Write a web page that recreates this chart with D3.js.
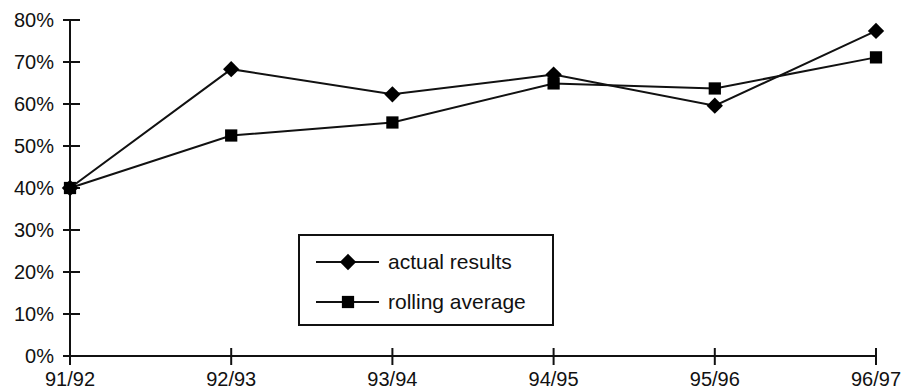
<!DOCTYPE html>
<html>
<head>
<meta charset="utf-8">
<script src="https://cdn.jsdelivr.net/npm/d3@7"></script>
<style>
    body { margin: 0; background: #fff; }
    svg text { font-family: "Liberation Sans", Arial, sans-serif; fill: #111; }
</style>
</head>
<body>
<svg id="chart" width="903" height="390"></svg>
<script>
const years = ['91/92', '92/93', '93/94', '94/95', '95/96', '96/97'];
const actualResults = [40, 68.3, 62.3, 67.0, 59.6, 77.4];
const rollingAverage = [40, 52.5, 55.6, 64.9, 63.7, 71.1];
const yTicks = [0, 10, 20, 30, 40, 50, 60, 70, 80];
const legendLabels = ['actual results', 'rolling average'];

const svg = d3.select('#chart');
const x = d3.scalePoint().domain(years).range([70, 876]);
const y = d3.scaleLinear().domain([0, 80]).range([356, 20]);

// axes, ticks cross the axis line
const yAxis = svg.append('g');
yAxis.append('line')
    .attr('x1', 70).attr('x2', 70).attr('y1', y(80)).attr('y2', y(0))
    .attr('stroke', '#111').attr('stroke-width', 2);
yAxis.selectAll('.tick')
    .data(yTicks)
    .enter().append('line')
    .attr('x1', 63).attr('x2', 80)
    .attr('y1', d => y(d)).attr('y2', d => y(d))
    .attr('stroke', '#111').attr('stroke-width', 2);
yAxis.selectAll('.label')
    .data(yTicks)
    .enter().append('text')
    .attr('x', 54)
    .attr('y', d => y(d))
    .attr('dy', '0.35em')
    .attr('text-anchor', 'end')
    .style('font-size', '20px')
    .text(d => d + '%');

const xAxis = svg.append('g');
xAxis.append('line')
    .attr('x1', 70).attr('x2', 876).attr('y1', y(0)).attr('y2', y(0))
    .attr('stroke', '#111').attr('stroke-width', 2);
xAxis.selectAll('.tick')
    .data(years)
    .enter().append('line')
    .attr('x1', d => x(d)).attr('x2', d => x(d))
    .attr('y1', 348).attr('y2', 365)
    .attr('stroke', '#111').attr('stroke-width', 2);
xAxis.selectAll('.label')
    .data(years)
    .enter().append('text')
    .attr('x', d => x(d))
    .attr('y', 386)
    .attr('text-anchor', 'middle')
    .style('font-size', '20px')
    .text(d => d);

const line = d3.line().x((d, i) => x(years[i])).y(d => y(d));
const diamond = d3.symbol().type(d3.symbolDiamond2).size(170);
const square = d3.symbol().type(d3.symbolSquare).size(150);

function drawSeries(values, sym) {
    svg.append('path')
        .datum(values)
        .attr('d', line)
        .attr('fill', 'none')
        .attr('stroke', '#111')
        .attr('stroke-width', 2);
    svg.selectAll(null)
        .data(values)
        .enter().append('path')
        .attr('d', sym)
        .attr('transform', (d, i) => 'translate(' + x(years[i]) + ',' + y(d) + ')')
        .attr('fill', '#000');
}
drawSeries(rollingAverage, square);
drawSeries(actualResults, diamond);

// legend
const legend = svg.append('g');
legend.append('rect')
    .attr('x', 299).attr('y', 235).attr('width', 254).attr('height', 90)
    .attr('fill', '#fff').attr('stroke', '#111').attr('stroke-width', 2);
const rows = legend.selectAll('.row')
    .data(legendLabels)
    .enter().append('g')
    .attr('transform', (d, i) => 'translate(0,' + (262 + i * 40) + ')');
rows.append('line')
    .attr('x1', 316).attr('x2', 379)
    .attr('stroke', '#111').attr('stroke-width', 2);
rows.append('path')
    .attr('d', (d, i) => i === 0 ? diamond() : square())
    .attr('transform', 'translate(348,0)')
    .attr('fill', '#000');
rows.append('text')
    .attr('x', 388)
    .attr('dy', '0.35em')
    .style('font-size', '21px')
    .text(d => d);
</script>
</body>
</html>
